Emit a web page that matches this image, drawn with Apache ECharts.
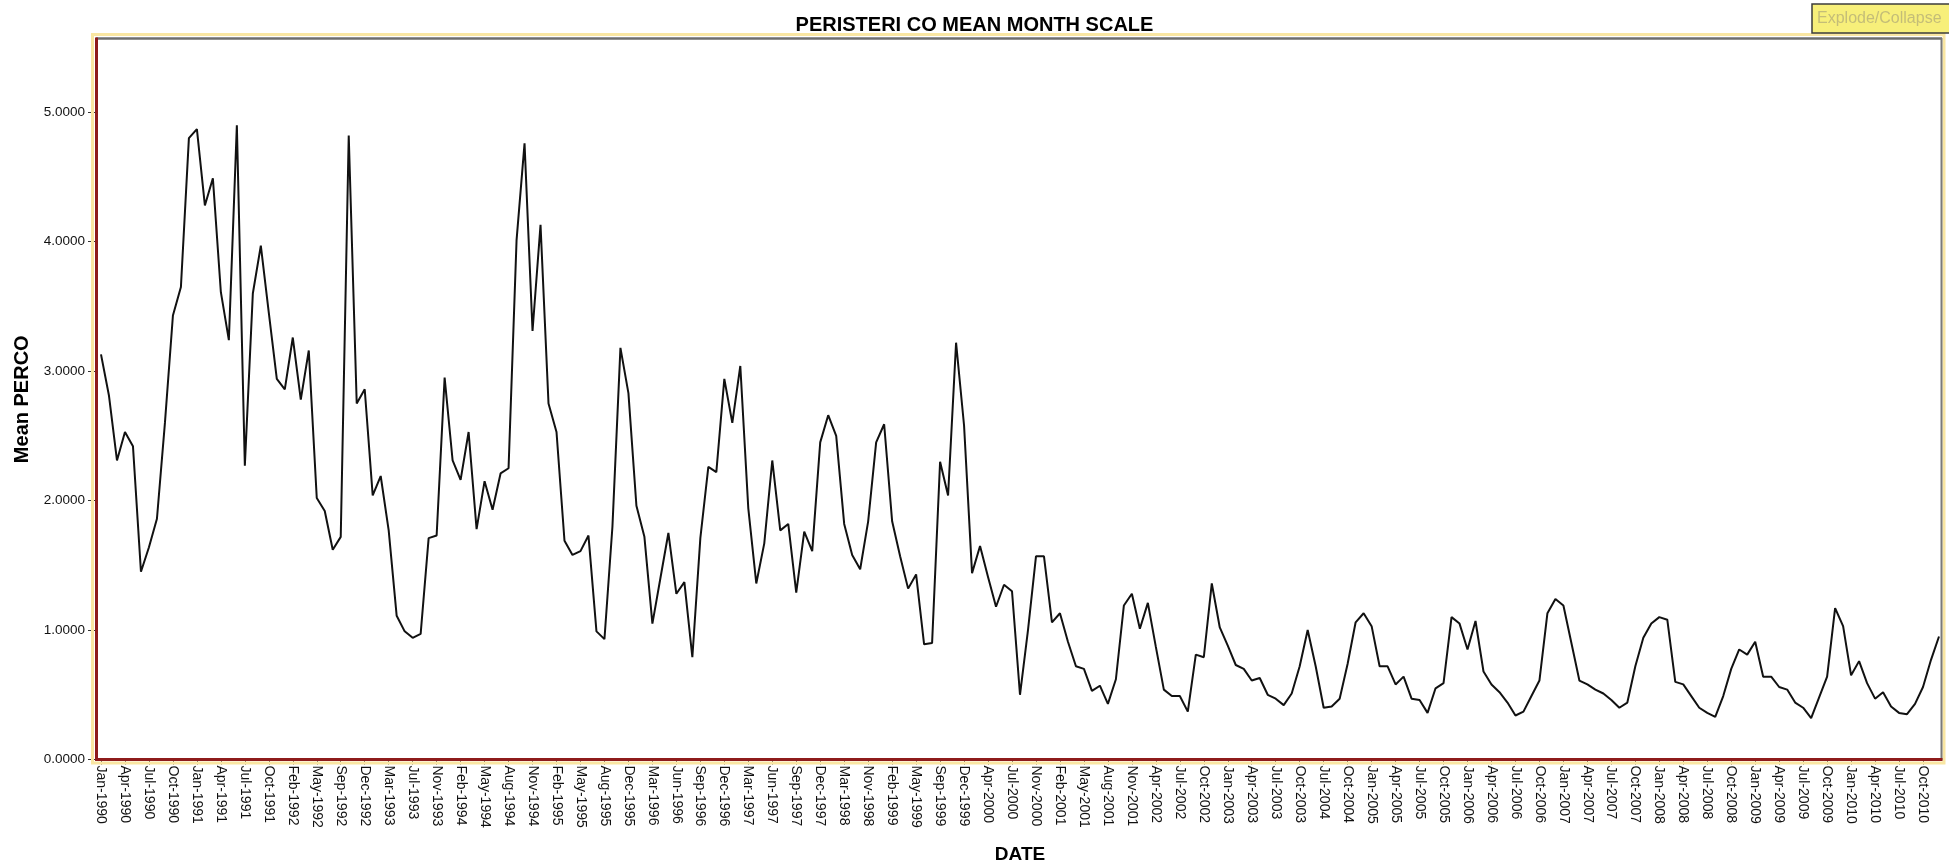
<!DOCTYPE html>
<html><head><meta charset="utf-8">
<script src="https://cdn.jsdelivr.net/npm/echarts/dist/echarts.min.js"></script>
<style>html,body{margin:0;padding:0;background:#fff}#chart{width:1949px;height:864px}</style>
</head><body><div id="chart"></div>
<script>
const titleText = 'PERISTERI CO MEAN MONTH SCALE';
const xName = 'DATE';
const yName = 'Mean PERCO';
const buttonText = 'Explode/Collapse';

const dates = [
'Jan-1990','Feb-1990','Mar-1990','Apr-1990','May-1990','Jun-1990','Jul-1990','Aug-1990','Sep-1990','Oct-1990','Nov-1990','Dec-1990',
'Jan-1991','Feb-1991','Mar-1991','Apr-1991','May-1991','Jun-1991','Jul-1991','Aug-1991','Sep-1991','Oct-1991','Dec-1991',
'Jan-1992','Feb-1992','Mar-1992','Apr-1992','May-1992','Jul-1992','Aug-1992','Sep-1992','Oct-1992','Nov-1992','Dec-1992',
'Jan-1993','Feb-1993','Mar-1993','May-1993','Jun-1993','Jul-1993','Sep-1993','Oct-1993','Nov-1993','Dec-1993',
'Jan-1994','Feb-1994','Mar-1994','Apr-1994','May-1994','Jun-1994','Jul-1994','Aug-1994','Sep-1994','Oct-1994','Nov-1994','Dec-1994',
'Jan-1995','Feb-1995','Mar-1995','Apr-1995','May-1995','Jun-1995','Jul-1995','Aug-1995','Oct-1995','Nov-1995','Dec-1995',
'Jan-1996','Feb-1996','Mar-1996','Apr-1996','May-1996','Jun-1996','Jul-1996','Aug-1996','Sep-1996','Oct-1996','Nov-1996','Dec-1996',
'Jan-1997','Feb-1997','Mar-1997','Apr-1997','May-1997','Jun-1997','Jul-1997','Aug-1997','Sep-1997','Oct-1997','Nov-1997','Dec-1997',
'Jan-1998','Feb-1998','Mar-1998','Apr-1998','May-1998','Nov-1998','Dec-1998',
'Jan-1999','Feb-1999','Mar-1999','Apr-1999','May-1999','Jul-1999','Aug-1999','Sep-1999','Oct-1999','Nov-1999','Dec-1999',
'Feb-2000','Mar-2000','Apr-2000','May-2000','Jun-2000','Jul-2000','Sep-2000','Oct-2000','Nov-2000','Dec-2000',
'Jan-2001','Feb-2001','Mar-2001','Apr-2001','May-2001','Jun-2001','Jul-2001','Aug-2001','Sep-2001','Oct-2001','Nov-2001','Dec-2001',
'Mar-2002','Apr-2002','May-2002','Jun-2002','Jul-2002','Aug-2002','Sep-2002','Oct-2002','Nov-2002','Dec-2002',
'Jan-2003','Feb-2003','Mar-2003','Apr-2003','May-2003','Jun-2003','Jul-2003','Aug-2003','Sep-2003','Oct-2003','Nov-2003','Dec-2003',
'Jul-2004','Aug-2004','Sep-2004','Oct-2004','Nov-2004','Dec-2004',
'Jan-2005','Feb-2005','Mar-2005','Apr-2005','May-2005','Jun-2005','Jul-2005','Aug-2005','Sep-2005','Oct-2005','Nov-2005','Dec-2005',
'Jan-2006','Feb-2006','Mar-2006','Apr-2006','May-2006','Jun-2006','Jul-2006','Aug-2006','Sep-2006','Oct-2006','Nov-2006','Dec-2006',
'Jan-2007','Feb-2007','Mar-2007','Apr-2007','May-2007','Jun-2007','Jul-2007','Aug-2007','Sep-2007','Oct-2007','Nov-2007','Dec-2007',
'Jan-2008','Feb-2008','Mar-2008','Apr-2008','May-2008','Jun-2008','Jul-2008','Aug-2008','Sep-2008','Oct-2008','Nov-2008','Dec-2008',
'Jan-2009','Feb-2009','Mar-2009','Apr-2009','May-2009','Jun-2009','Jul-2009','Aug-2009','Sep-2009','Oct-2009','Nov-2009','Dec-2009',
'Jan-2010','Feb-2010','Mar-2010','Apr-2010','May-2010','Jun-2010','Jul-2010','Aug-2010','Sep-2010','Oct-2010','Nov-2010','Dec-2010'
];

const perco = [
3.13, 2.81, 2.31, 2.53, 2.42, 1.45, 1.64, 1.86, 2.60, 3.43, 3.65, 4.80,
4.87, 4.28, 4.49, 3.61, 3.24, 4.90, 2.27, 3.60, 3.97, 3.45, 2.94, 2.86,
3.26, 2.78, 3.16, 2.02, 1.92, 1.62, 1.72, 4.82, 2.75, 2.86, 2.04, 2.19,
1.77, 1.11, 0.99, 0.94, 0.97, 1.71, 1.73, 2.95, 2.31, 2.16, 2.53, 1.78,
2.15, 1.93, 2.21, 2.25, 4.01, 4.76, 3.31, 4.13, 2.75, 2.53, 1.69, 1.58,
1.61, 1.73, 0.99, 0.93, 1.80, 3.18, 2.83, 1.96, 1.72, 1.05, 1.40, 1.75,
1.28, 1.37, 0.79, 1.71, 2.26, 2.22, 2.94, 2.60, 3.04, 1.94, 1.36, 1.67,
2.31, 1.77, 1.82, 1.29, 1.76, 1.61, 2.45, 2.66, 2.50, 1.82, 1.58, 1.47,
1.84, 2.45, 2.59, 1.84, 1.57, 1.32, 1.43, 0.89, 0.90, 2.30, 2.04, 3.22,
2.58, 1.44, 1.65, 1.41, 1.18, 1.35, 1.30, 0.50, 1.00, 1.57, 1.57, 1.06,
1.13, 0.91, 0.72, 0.70, 0.53, 0.57, 0.43, 0.62, 1.19, 1.28, 1.01, 1.21,
0.87, 0.54, 0.49, 0.49, 0.37, 0.81, 0.79, 1.36, 1.02, 0.88, 0.73, 0.70,
0.61, 0.63, 0.50, 0.47, 0.42, 0.51, 0.72, 1.00, 0.72, 0.40, 0.41, 0.47,
0.74, 1.06, 1.13, 1.03, 0.72, 0.72, 0.58, 0.64, 0.47, 0.46, 0.36, 0.55,
0.59, 1.10, 1.05, 0.85, 1.07, 0.68, 0.58, 0.52, 0.44, 0.34, 0.37, 0.49,
0.61, 1.13, 1.24, 1.19, 0.90, 0.61, 0.58, 0.54, 0.51, 0.46, 0.40, 0.44,
0.72, 0.94, 1.05, 1.10, 1.08, 0.60, 0.58, 0.49, 0.40, 0.36, 0.33, 0.49,
0.70, 0.85, 0.81, 0.91, 0.64, 0.64, 0.56, 0.54, 0.44, 0.40, 0.32, 0.48,
0.64, 1.17, 1.03, 0.65, 0.76, 0.59, 0.47, 0.52, 0.41, 0.36, 0.35, 0.43,
0.56, 0.77, 0.95
];

const yTicks = [0, 1, 2, 3, 4, 5];
const yMin = 0;
const yMax = 5.566;

const chart = echarts.init(document.getElementById('chart'), null, {renderer: 'canvas'});
const FONT = 'Liberation Sans, Arial, sans-serif';

chart.setOption({
  animation: false,
  backgroundColor: '#ffffff',
  title: {
    text: titleText, left: 'center', top: 10,
    textStyle: {fontFamily: FONT, fontSize: 20, fontWeight: 'bold', color: '#000'}
  },
  grid: {left: 101, right: 10, top: 39, bottom: 104.5, containLabel: false, outerBoundsMode: 'none'},
  xAxis: {
    type: 'category', data: dates, boundaryGap: false, offset: 2,
    name: xName, nameLocation: 'middle', nameGap: 84,
    nameTextStyle: {fontFamily: FONT, fontSize: 19, fontWeight: 'bold', color: '#000'},
    axisLine: {show: false},
    axisTick: {show: true, interval: 2, length: 5, lineStyle: {color: '#333', width: 1}},
    axisLabel: {interval: 2, rotate: -90, margin: 4, fontFamily: FONT, fontSize: 14, color: '#111', hideOverlap: false},
    splitLine: {show: false}
  },
  yAxis: {
    type: 'value', min: yMin, max: yMax, interval: 1, offset: 5,
    name: yName, nameLocation: 'middle', nameGap: 64,
    nameTextStyle: {fontFamily: FONT, fontSize: 20, fontWeight: 'bold', color: '#000'},
    axisLine: {show: false},
    axisTick: {show: true, length: 8, customValues: yTicks, lineStyle: {color: '#333', width: 1}},
    axisLabel: {customValues: yTicks, margin: 11, fontFamily: FONT, fontSize: 13.5, color: '#111',
      formatter: v => Number(v).toFixed(4)},
    splitLine: {show: false}
  },
  series: [{
    type: 'line', data: perco, symbol: 'none', showSymbol: false,
    lineStyle: {color: '#111', width: 2}
  }],
  graphic: [
    {type: 'rect', z: 100, silent: true, shape: {x: 92.5, y: 34.5, width: 1851.5, height: 728.5},
     style: {fill: null, stroke: '#f9e6a2', lineWidth: 3}},
    {type: 'line', z: 101, silent: true, shape: {x1: 96, y1: 38.5, x2: 1942, y2: 38.5},
     style: {stroke: '#6e6e6e', lineWidth: 2.5}},
    {type: 'line', z: 101, silent: true, shape: {x1: 1941.5, y1: 38, x2: 1941.5, y2: 760},
     style: {stroke: '#7a7a7a', lineWidth: 2}},
    {type: 'line', z: 102, silent: true, shape: {x1: 96.5, y1: 37.5, x2: 96.5, y2: 761},
     style: {stroke: '#8e1b1b', lineWidth: 3}},
    {type: 'line', z: 102, silent: true, shape: {x1: 95, y1: 759.5, x2: 1942.5, y2: 759.5},
     style: {stroke: '#8e1b1b', lineWidth: 3}},
    {type: 'rect', z: 110, silent: true, shape: {x: 1812, y: 4, width: 160, height: 29},
     style: {fill: '#f7ef7a', stroke: '#3c3c3c', lineWidth: 1.5}},
    {type: 'text', z: 111, silent: true, style: {x: 1817, y: 18.5, text: buttonText,
      font: '16px ' + FONT, fill: '#c4bd78', verticalAlign: 'middle', align: 'left'}}
  ]
});
</script>
</body></html>
